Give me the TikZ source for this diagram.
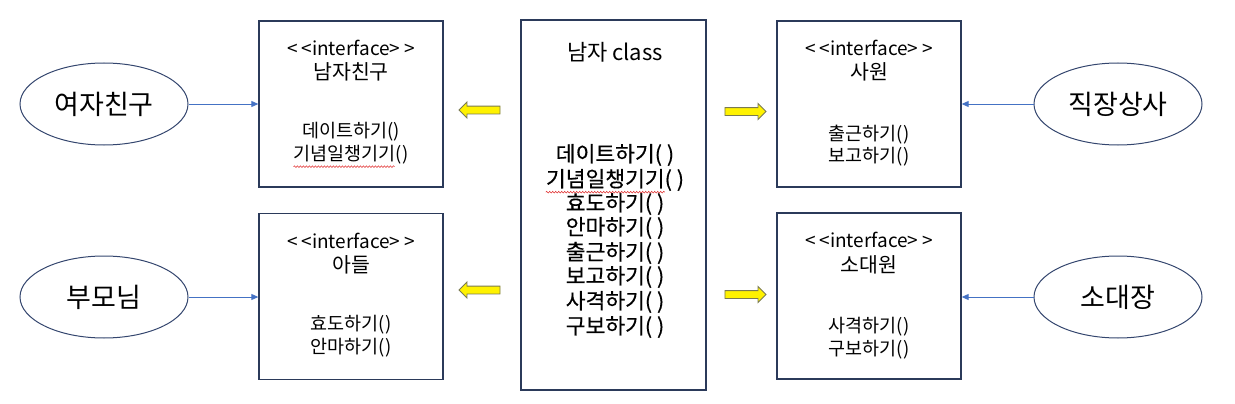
\documentclass[tikz,border=0pt]{standalone}
\usepackage{fontspec}
\setmainfont{Noto Sans CJK KR}
\newfontfamily\semib[FakeBold=0.4]{Noto Sans CJK KR}
\usetikzlibrary{shapes.geometric,shapes.arrows,decorations.pathmorphing,arrows.meta,calc}
\definecolor{navy}{HTML}{2B3A5A}
\definecolor{ellb}{HTML}{34466E}
\definecolor{linkblue}{HTML}{4472C4}
\definecolor{arrowedge}{HTML}{7A7A50}
\definecolor{squig}{HTML}{E03030}
\begin{document}
\begin{tikzpicture}[x=1pt,y=-1pt,
  ibox/.style={draw=navy, line width=1.3pt, minimum width=184pt, minimum height=166pt, inner sep=0pt},
  cbox/.style={draw=navy, line width=1.8pt, minimum width=185pt, minimum height=370pt, inner sep=0pt},
  actor/.style={ellipse, draw=ellb, line width=1pt, minimum width=168pt, minimum height=82pt, inner sep=0pt, font=\fontsize{27}{30}\selectfont},
  stereo/.style={font=\fontsize{19}{22}\selectfont, inner sep=0pt},
  iname/.style={font=\fontsize{20.5}{24}\selectfont, inner sep=0pt},
  meth/.style={font=\fontsize{18.5}{22}\selectfont, inner sep=0pt},
  cmeth/.style={font=\semib\fontsize{21.5}{24}\selectfont, inner sep=0pt},
  ctitle/.style={font=\fontsize{22}{25}\selectfont, inner sep=0pt},
  link/.style={draw=linkblue, line width=0.9pt, -{Triangle[length=7pt,width=6pt]}},
  yarrow/.style={single arrow, draw=arrowedge, fill=yellow, line width=0.9pt, minimum height=41pt, single arrow head extend=4pt, single arrow head indent=0pt, inner xsep=0pt, inner ysep=0pt},
  spell/.style={draw=squig, line width=0.5pt, decorate, decoration={snake, amplitude=0.9pt, segment length=3pt}}
]
\useasboundingbox (0,0) rectangle (1235,404);

% interface boxes
\node[ibox] (nc) at (351,104) {};
\node[ibox] (ad) at (351,296.5) {};
\node[ibox] (sw) at (869,104) {};
\node[ibox] (sd) at (869,296) {};
% class box
\node[cbox] (cl) at (613.5,205) {};

% actors
\node[actor] (gf) at (104,104) {여자친구};
\node[actor] (pr) at (104,297) {부모님};
\node[actor] (bs) at (1118,104) {직장상사};
\node[actor] (lt) at (1118,297) {소대장};

% box texts
\node[stereo] (nc1) at (351,48) {<\hspace{4pt}<interface>\hspace{4pt}>};
\node[iname] (nc2) at (351,72) {남자친구};
\node[meth] (nc3) at (351,132) {데이트하기()};
\node[meth] (nc4) at (351,155) {기념일챙기기()};

\node[stereo] (ad1) at (351,241) {<\hspace{4pt}<interface>\hspace{4pt}>};
\node[iname] (ad2) at (351,265) {아들};
\node[meth] (ad3) at (351,325) {효도하기()};
\node[meth] (ad4) at (351,348) {안마하기()};

\node[stereo] (sw1) at (869,48) {<\hspace{4pt}<interface>\hspace{4pt}>};
\node[iname] (sw2) at (869,72) {사원};
\node[meth] (sw3) at (869,135) {출근하기()};
\node[meth] (sw4) at (869,157) {보고하기()};

\node[stereo] (sd1) at (869,240) {<\hspace{4pt}<interface>\hspace{4pt}>};
\node[iname] (sd2) at (869,265) {소대원};
\node[meth] (sd3) at (869,327) {사격하기()};
\node[meth] (sd4) at (869,350) {구보하기()};

% class texts
\node[ctitle] (c0) at (615,52) {남자 class};
\node[cmeth] (c1) at (615,155) {데이트하기( )};
\node[cmeth] (c2) at (615,180) {기념일챙기기( )};
\node[cmeth] (c3) at (615,204) {효도하기( )};
\node[cmeth] (c4) at (615,228) {안마하기( )};
\node[cmeth] (c5) at (615,253) {출근하기( )};
\node[cmeth] (c6) at (615,277) {보고하기( )};
\node[cmeth] (c7) at (615,302) {사격하기( )};
\node[cmeth] (c8) at (615,327) {구보하기( )};

% spell-check squiggles
\draw[spell] ($(nc4.south west)+(0,2)$) -- ($(nc4.south west)!0.88!(nc4.south east)+(0,2)$);
\draw[spell] ($(c2.south west)+(0,1)$) -- ($(c2.south west)!0.86!(c2.south east)+(0,1)$);

% yellow block arrows
\node[yarrow, shape border rotate=180] (ya1) at (481.5,110) {\rule{0pt}{7pt}};
\node[yarrow, shape border rotate=180] (ya2) at (481.5,290) {\rule{0pt}{7pt}};
\node[yarrow] (ya3) at (743.5,111.5) {\rule{0pt}{7pt}};
\node[yarrow] (ya4) at (743.5,294.5) {\rule{0pt}{7pt}};

% association links
\draw[link] (gf.east) -- (nc.west);
\draw[link] (pr.east) -- (pr.east -| ad.west);
\draw[link] (bs.west) -- (sw.east);
\draw[link] (lt.west) -- (lt.west -| sd.east);
\end{tikzpicture}
\end{document}
